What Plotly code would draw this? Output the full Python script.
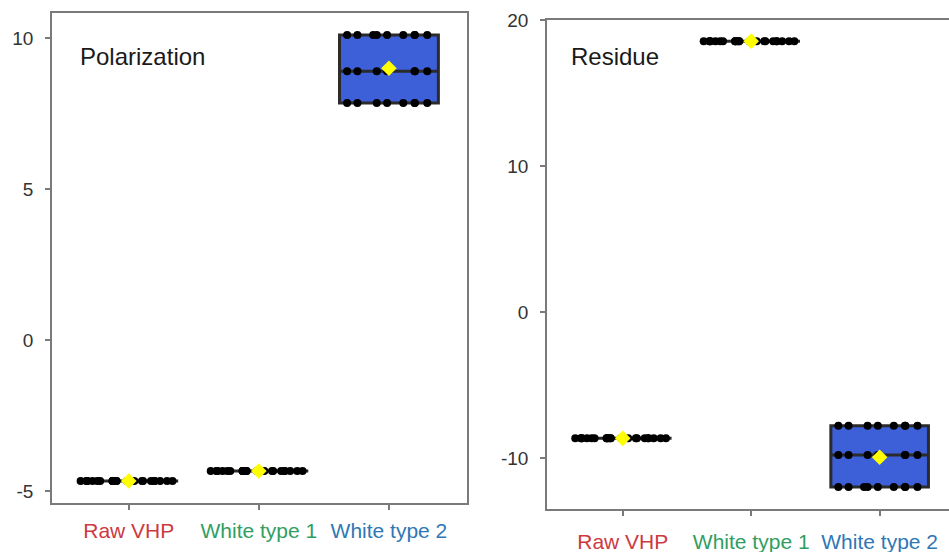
import numpy as np
import plotly.graph_objects as go

categories = ["Raw VHP", "White type 1", "White type 2"]
label_colors = ["#cc3a3f", "#2f9e62", "#2f77b5"]

pol_ticks = [-5, 0, 5, 10]
pol_ticktext = ["-5", "0", "5", "10"]
res_ticks = [-10, 0, 10, 20]
res_ticktext = ["-10", "0", "10", "20"]

# Polarization panel
pol_raw = [-4.67, -4.67, -4.67, -4.67, -4.67, -4.67, -4.67, -4.67, -4.67, -4.67,
           -4.67, -4.67, -4.67, -4.67, -4.67, -4.67, -4.67, -4.67, -4.67, -4.67,
           -4.67, -4.67, -4.67, -4.67]
pol_w1 = [-4.34, -4.34, -4.34, -4.34, -4.34, -4.34, -4.34, -4.34, -4.34, -4.34,
          -4.34, -4.34, -4.34, -4.34, -4.34, -4.34, -4.34, -4.34, -4.34, -4.34,
          -4.34, -4.34, -4.34, -4.34]
pol_w2 = [7.85, 7.85, 7.85, 7.85, 7.85, 7.85, 7.85, 7.85,
          8.9, 8.9, 8.9, 8.9, 8.9, 8.9, 8.9,
          10.1, 10.1, 10.1, 10.1, 10.1, 10.1, 10.1, 10.1, 10.1]

# Residue panel
res_raw = [-8.66, -8.66, -8.66, -8.66, -8.66, -8.66, -8.66, -8.66, -8.66, -8.66,
           -8.66, -8.66, -8.66, -8.66, -8.66, -8.66, -8.66, -8.66, -8.66, -8.66,
           -8.66, -8.66, -8.66, -8.66]
res_w1 = [18.55, 18.55, 18.55, 18.55, 18.55, 18.55, 18.55, 18.55, 18.55, 18.55,
          18.55, 18.55, 18.55, 18.55, 18.55, 18.55, 18.55, 18.55, 18.55, 18.55,
          18.55, 18.55, 18.55, 18.55]
res_w2 = [-12.0, -12.0, -12.0, -12.0, -12.0, -12.0, -12.0, -12.0, -12.0,
          -9.8, -9.8, -9.8, -9.8, -9.8, -9.8, -9.8,
          -7.8, -7.8, -7.8, -7.8, -7.8, -7.8, -7.8, -7.8]

panels = [
    ("Polarization", [pol_raw, pol_w1, pol_w2], "x", "y"),
    ("Residue", [res_raw, res_w1, res_w2], "x2", "y2"),
]

W, H = 949, 552
FONT = "Liberation Sans, Arial, sans-serif"
BOX_W = 0.76

fig = go.Figure()
for name, groups, xa, ya in panels:
    xs, ys = [], []
    for cat, vals in zip(categories, groups):
        xs += [cat] * len(vals)
        ys += list(vals)
    # box summary
    fig.add_trace(go.Box(
        x=xs, y=ys, xaxis=xa, yaxis=ya, boxpoints=False, width=BOX_W,
        fillcolor="#3d5fd8", line=dict(color="#2b2b2b", width=3),
        showlegend=False, hoverinfo="skip",
    ))
    # individual points, jittered by plotly across the box width (one trace per level)
    for cat, vals in zip(categories, groups):
        arr = np.asarray(vals)
        for lev in np.unique(arr):
            sel = arr[arr == lev]
            fig.add_trace(go.Box(
                x=[cat] * len(sel), y=sel.tolist(), xaxis=xa, yaxis=ya,
                boxpoints="all", jitter=1, pointpos=0, width=BOX_W,
                fillcolor="rgba(0,0,0,0)", line=dict(color="rgba(0,0,0,0)", width=0),
                marker=dict(color="black", size=8, opacity=1),
                showlegend=False, hoverinfo="skip",
            ))
    fig.add_trace(go.Scatter(
        x=categories, y=[float(np.mean(v)) for v in groups], xaxis=xa, yaxis=ya,
        mode="markers", marker=dict(symbol="diamond", color="#ffff00", size=12),
        showlegend=False, hoverinfo="skip",
    ))

ticktext = [f"<span style='color:{c}'>{t}</span>" for t, c in zip(categories, label_colors)]

axis_common = dict(showgrid=False, zeroline=False, showline=True, linecolor="#7a7a7a",
                   linewidth=1.5, ticks="outside", ticklen=5, tickcolor="#7a7a7a",
                   tickwidth=1.5, automargin=False)
xfont = dict(family=FONT, size=21, color="#333333")
yfont = dict(family=FONT, size=19, color="#333333")

fig.update_layout(
    width=W, height=H, margin=dict(l=0, r=0, t=0, b=0),
    paper_bgcolor="white", plot_bgcolor="white",
    font=dict(family=FONT), boxmode="overlay",
    xaxis=dict(domain=[52 / W, 467 / W], range=[-0.59, 2.6], type="category",
               categoryorder="array", categoryarray=categories,
               tickmode="array", tickvals=categories, ticktext=ticktext, tickfont=xfont,
               mirror=True, anchor="y", ticklabelstandoff=3, **axis_common),
    yaxis=dict(domain=[1 - 503 / H, 1 - 13 / H], range=[-5.40, 10.83],
               tickmode="array", tickvals=pol_ticks, ticktext=pol_ticktext, tickfont=yfont,
               mirror=True, anchor="x", ticklabelstandoff=8, **axis_common),
    xaxis2=dict(domain=[547 / W, 1.0], range=[-0.59, 2.54], type="category",
                categoryorder="array", categoryarray=categories,
                tickmode="array", tickvals=categories, ticktext=ticktext, tickfont=xfont,
                mirror=True, anchor="y2", ticklabelstandoff=8, **axis_common),
    yaxis2=dict(domain=[1 - 509 / H, 1 - 20 / H], range=[-13.5, 20.0],
                tickmode="array", tickvals=res_ticks, ticktext=res_ticktext, tickfont=yfont,
                mirror=False, anchor="x2", ticklabelstandoff=8, **axis_common),
    annotations=[
        dict(text="Polarization", xref="paper", yref="paper", x=78 / W, y=1 - 56 / H,
             xanchor="left", yanchor="middle", showarrow=False,
             font=dict(family=FONT, size=24, color="#1a1a1a")),
        dict(text="Residue", xref="paper", yref="paper", x=569 / W, y=1 - 56 / H,
             xanchor="left", yanchor="middle", showarrow=False,
             font=dict(family=FONT, size=24, color="#1a1a1a")),
    ],
)

fig.write_html("out.html", config={"displayModeBar": False},
               post_script="document.body.style.margin='0';document.body.style.overflow='hidden';")
